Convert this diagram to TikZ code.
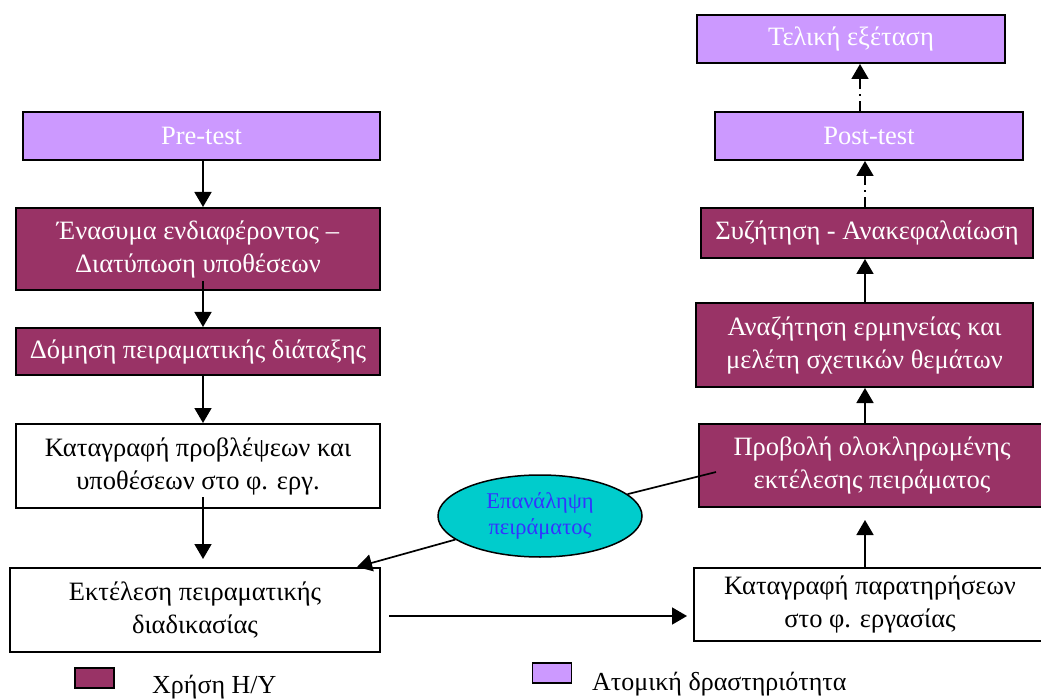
\documentclass[tikz,border=0pt]{standalone}
\usepackage{fontspec}
\setmainfont{Liberation Serif}
\usetikzlibrary{arrows.meta,shapes.geometric,calc}
\definecolor{plum}{HTML}{993366}
\definecolor{lav}{HTML}{CC99FF}
\definecolor{tealfill}{HTML}{00CCCC}
\definecolor{etext}{HTML}{3333FF}
\begin{document}
\begin{tikzpicture}[x=1pt,y=-1pt,
 box/.style={draw=black,line width=2pt,inner sep=0pt,align=center,font=\fontsize{26.5}{33}\selectfont},
 pc/.style={box,fill=plum,text=white},
 ind/.style={box,fill=lav,text=white},
 wb/.style={box,fill=white,text=black},
 arr/.style={line width=1.7pt,-{Triangle[width=17pt,length=15pt]}},
 dd/.style={arr,dash pattern=on 10pt off 5pt on 2pt off 5pt},
 legbox/.style={draw=black,line width=1.5pt,minimum width=39pt,minimum height=20pt,inner sep=0pt},
 legtext/.style={anchor=base west,inner sep=0pt,font=\fontsize{26}{30}\selectfont}]
\useasboundingbox (0,0) rectangle (1041,700);
% left column
\node[ind,minimum width=357pt,minimum height=48pt] (pre) at (201.5,136) {Pre-test};
\node[pc,minimum width=364pt,minimum height=82pt] (enas) at (198,249) {Ένασυμα ενδιαφέροντος –\\Διατύπωση υποθέσεων};
\node[pc,minimum width=364pt,minimum height=47pt] (dom) at (198,351.5) {Δόμηση πειραματικής διάταξης};
\node[wb,minimum width=364pt,minimum height=84pt] (katp) at (198,466) {Καταγραφή προβλέψεων και\\υποθέσεων στο φ. εργ.};
\node[wb,minimum width=370pt,minimum height=84pt] (ekt) at (195,610) {Εκτέλεση πειραματικής\\διαδικασίας};
% right column
\node[wb,minimum width=352pt,minimum height=73pt] (katpar) at (870,604) {Καταγραφή παρατηρήσεων\\στο φ. εργασίας};
\node[pc,minimum width=346pt,minimum height=83pt] (prov) at (872,465.5) {Προβολή ολοκληρωμένης\\εκτέλεσης πειράματος};
\node[pc,minimum width=337pt,minimum height=84pt] (anaz) at (864.5,345) {Αναζήτηση ερμηνείας και\\μελέτη σχετικών θεμάτων};
\node[pc,minimum width=332pt,minimum height=50pt] (syz) at (867,233) {Συζήτηση - Ανακεφαλαίωση};
\node[ind,minimum width=308pt,minimum height=48pt] (post) at (869,136) {Post-test};
\node[ind,minimum width=308pt,minimum height=48pt] (tel) at (851,39) {Τελική εξέταση};
% ellipse
\node[ellipse,draw=black,line width=1.5pt,fill=tealfill,text=etext,minimum width=204pt,minimum height=82pt,inner sep=0pt,align=center,font=\fontsize{22.5}{26}\selectfont] (ell) at (540,516) {Επανάληψη\\πειράματος};
% connector columns
\coordinate (cl) at (203,0);
\coordinate (cr) at (865,0);
\coordinate (ct) at (860,0);
\coordinate (h) at (0,616);
\draw[arr] (pre.south -| cl) -- (enas.north -| cl);
\draw[arr] ($(enas.south -| cl)+(0,-10)$) -- (dom.north -| cl);
\draw[arr] (dom.south -| cl) -- (katp.north -| cl);
\draw[arr] ($(katp.south -| cl)+(0,-12)$) -- ($(ekt.north -| cl)+(0,-8)$);
\draw[arr] ($(ekt.east |- h)+(8,0)$) -- ($(katpar.west |- h)+(-6,0)$);
\draw[arr] (katpar.north -| cr) -- ($(prov.south -| cr)+(0,12)$);
\draw[arr] (prov.north -| cr) -- (anaz.south -| cr);
\draw[arr] (anaz.north -| cr) -- (syz.south -| cr);
\draw[dd] (syz.north -| cr) -- (post.south -| cr);
\draw[dd] (post.north -| ct) -- (tel.south -| ct);
\coordinate (p1) at (716,472);
\coordinate (p2) at (357,567);
\draw[line width=1.7pt] (p1) -- (ell);
\draw[arr] (ell) -- (p2);
% legend
\node[legbox,fill=plum] (lg1) at (94.5,678) {};
\node[legtext] (lt1) at (152,693) {Χρήση Η/Υ};
\node[legbox,fill=lav] (lg2) at (552,673) {};
\node[legtext] (lt2) at (592,690) {Ατομική δραστηριότητα};
\end{tikzpicture}
\end{document}
